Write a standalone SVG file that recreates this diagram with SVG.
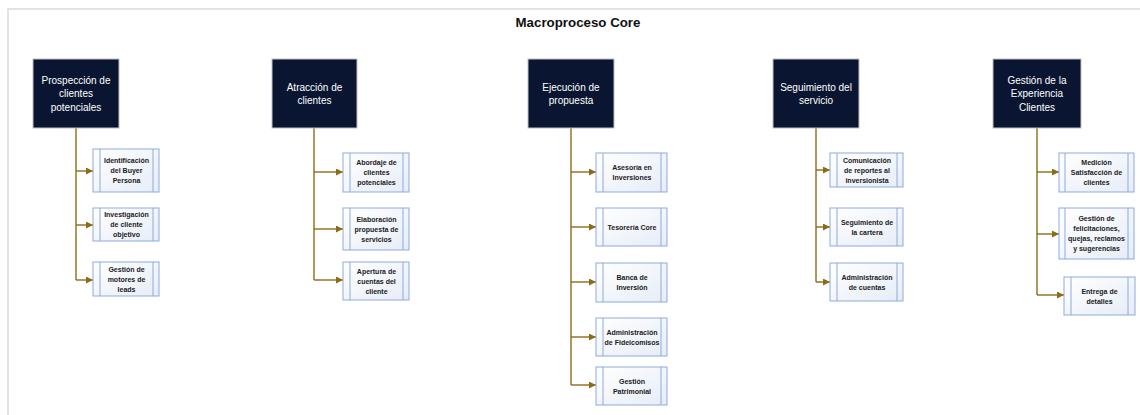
<svg xmlns="http://www.w3.org/2000/svg" width="1140" height="415" viewBox="0 0 1140 415">
<defs>
<linearGradient id="cg" x1="0" y1="0" x2="1" y2="1">
<stop offset="0" stop-color="#ffffff"/>
<stop offset="1" stop-color="#e6ecf7"/>
</linearGradient>
<marker id="ah" markerUnits="userSpaceOnUse" markerWidth="8" markerHeight="8" refX="7" refY="3.5" orient="auto">
<path d="M0,0 L7,3.5 L0,7 z" fill="#8b6c17"/>
</marker>
<style>
.hd{fill:#0a1631;stroke:#bfbfbf;stroke-width:1}
.ht{font-family:"Liberation Sans",Arial,sans-serif;font-size:10px;fill:#ffffff;text-anchor:middle}
.cb{fill:url(#cg);stroke:#8faadc;stroke-width:1}
.bar{stroke:#8faadc;stroke-width:1}
.ct{font-family:"Liberation Sans",Arial,sans-serif;font-size:7px;font-weight:bold;fill:#1a1a1a;text-anchor:middle}
.ln{fill:none;stroke:#8b6c17;stroke-width:1.4}
.ar{fill:none;stroke:#8b6c17;stroke-width:1.4;marker-end:url(#ah)}
</style>
</defs>
<rect x="8" y="9" width="1140" height="420" fill="#ffffff" stroke="#d9d9d9" stroke-width="1.5"/>
<text x="578" y="27" font-family="'Liberation Sans',Arial,sans-serif" font-size="13.3" font-weight="bold" fill="#111" text-anchor="middle">Macroproceso Core</text>

<g id="connectors">
<path class="ln" d="M76,128 V280"/>
<path class="ar" d="M76,171 H93"/>
<path class="ar" d="M76,225 H93"/>
<path class="ar" d="M76,280 H93"/>
<path class="ln" d="M314,128 V280"/>
<path class="ar" d="M314,172 H343"/>
<path class="ar" d="M314,229 H343"/>
<path class="ar" d="M314,280 H343"/>
<path class="ln" d="M571,128 V385"/>
<path class="ar" d="M571,172 H596"/>
<path class="ar" d="M571,227 H596"/>
<path class="ar" d="M571,282 H596"/>
<path class="ar" d="M571,337 H596"/>
<path class="ar" d="M571,385 H596"/>
<path class="ln" d="M816,128 V282"/>
<path class="ar" d="M816,170 H830"/>
<path class="ar" d="M816,227 H830"/>
<path class="ar" d="M816,282 H830"/>
<path class="ln" d="M1037,128 V295"/>
<path class="ar" d="M1037,172 H1059"/>
<path class="ar" d="M1037,234 H1059"/>
<path class="ar" d="M1037,295 H1064"/>
</g>

<g id="h1"><rect class="hd" x="33" y="59" width="86" height="69"/><text class="ht"><tspan x="76" y="83.5">Prospección de</tspan><tspan x="76" y="97">clientes</tspan><tspan x="76" y="110.5">potenciales</tspan></text></g>
<g id="h2"><rect class="hd" x="272" y="59" width="85" height="69"/><text class="ht"><tspan x="314.5" y="90.5">Atracción de</tspan><tspan x="314.5" y="104">clientes</tspan></text></g>
<g id="h3"><rect class="hd" x="528" y="59" width="86" height="69"/><text class="ht"><tspan x="571" y="90.5">Ejecución de</tspan><tspan x="571" y="104">propuesta</tspan></text></g>
<g id="h4"><rect class="hd" x="773" y="59" width="86" height="69"/><text class="ht"><tspan x="816" y="90.5">Seguimiento del</tspan><tspan x="816" y="104">servicio</tspan></text></g>
<g id="h5"><rect class="hd" x="993" y="59" width="88" height="69"/><text class="ht"><tspan x="1037" y="83.5">Gestión de la</tspan><tspan x="1037" y="97">Experiencia</tspan><tspan x="1037" y="110.5">Clientes</tspan></text></g>

<g id="c1a"><rect class="cb" x="93" y="149" width="66" height="43"/><path class="bar" d="M100,149 V192 M153,149 V192"/><text class="ct"><tspan x="126.5" y="163">Identificación</tspan><tspan x="126.5" y="173">del Buyer</tspan><tspan x="126.5" y="183">Persona</tspan></text></g>
<g id="c1b"><rect class="cb" x="93" y="208" width="66" height="33"/><path class="bar" d="M100,208 V241 M153,208 V241"/><text class="ct"><tspan x="126.5" y="217">Investigación</tspan><tspan x="126.5" y="227">de cliente</tspan><tspan x="126.5" y="237">objetivo</tspan></text></g>
<g id="c1c"><rect class="cb" x="93" y="262" width="66" height="34"/><path class="bar" d="M100,262 V296 M153,262 V296"/><text class="ct"><tspan x="126.5" y="271.5">Gestión de</tspan><tspan x="126.5" y="281.5">motores de</tspan><tspan x="126.5" y="291.5">leads</tspan></text></g>

<g id="c2a"><rect class="cb" x="343" y="153" width="66" height="39"/><path class="bar" d="M350,153 V192 M403,153 V192"/><text class="ct"><tspan x="376.5" y="165">Abordaje de</tspan><tspan x="376.5" y="175">clientes</tspan><tspan x="376.5" y="185">potenciales</tspan></text></g>
<g id="c2b"><rect class="cb" x="343" y="208" width="66" height="42"/><path class="bar" d="M350,208 V250 M403,208 V250"/><text class="ct"><tspan x="376.5" y="221.5">Elaboración</tspan><tspan x="376.5" y="231.5">propuesta de</tspan><tspan x="376.5" y="241.5">servicios</tspan></text></g>
<g id="c2c"><rect class="cb" x="343" y="262" width="66" height="38"/><path class="bar" d="M350,262 V300 M403,262 V300"/><text class="ct"><tspan x="376.5" y="273.5">Apertura de</tspan><tspan x="376.5" y="283.5">cuentas del</tspan><tspan x="376.5" y="293.5">cliente</tspan></text></g>

<g id="c3a"><rect class="cb" x="596" y="153" width="71" height="39"/><path class="bar" d="M603,153 V192 M661,153 V192"/><text class="ct"><tspan x="632" y="170">Asesoría en</tspan><tspan x="632" y="180">Inversiones</tspan></text></g>
<g id="c3b"><rect class="cb" x="596" y="208" width="71" height="38"/><path class="bar" d="M603,208 V246 M661,208 V246"/><text class="ct"><tspan x="632" y="229.5">Tesorería Core</tspan></text></g>
<g id="c3c"><rect class="cb" x="596" y="263" width="71" height="39"/><path class="bar" d="M603,263 V302 M661,263 V302"/><text class="ct"><tspan x="632" y="280">Banca de</tspan><tspan x="632" y="290">Inversión</tspan></text></g>
<g id="c3d"><rect class="cb" x="596" y="318" width="71" height="38"/><path class="bar" d="M603,318 V356 M661,318 V356"/><text class="ct"><tspan x="632" y="334.5">Administración</tspan><tspan x="632" y="344.5">de Fideicomisos</tspan></text></g>
<g id="c3e"><rect class="cb" x="596" y="367" width="71" height="38"/><path class="bar" d="M603,367 V405 M661,367 V405"/><text class="ct"><tspan x="632" y="383.5">Gestión</tspan><tspan x="632" y="393.5">Patrimonial</tspan></text></g>

<g id="c4a"><rect class="cb" x="830" y="153" width="73" height="34"/><path class="bar" d="M837,153 V187 M897,153 V187"/><text class="ct"><tspan x="867" y="162.5">Comunicación</tspan><tspan x="867" y="172.5">de reportes al</tspan><tspan x="867" y="182.5">inversionista</tspan></text></g>
<g id="c4b"><rect class="cb" x="830" y="208" width="73" height="38"/><path class="bar" d="M837,208 V246 M897,208 V246"/><text class="ct"><tspan x="867" y="224.5">Seguimiento de</tspan><tspan x="867" y="234.5">la cartera</tspan></text></g>
<g id="c4c"><rect class="cb" x="830" y="263" width="73" height="38"/><path class="bar" d="M837,263 V301 M897,263 V301"/><text class="ct"><tspan x="867" y="279.5">Administración</tspan><tspan x="867" y="289.5">de cuentas</tspan></text></g>

<g id="c5a"><rect class="cb" x="1059" y="153" width="75" height="39"/><path class="bar" d="M1065,153 V192 M1128,153 V192"/><text class="ct"><tspan x="1096.5" y="165">Medición</tspan><tspan x="1096.5" y="175">Satisfacción de</tspan><tspan x="1096.5" y="185">clientes</tspan></text></g>
<g id="c5b"><rect class="cb" x="1059" y="208" width="75" height="51"/><path class="bar" d="M1065,208 V259 M1128,208 V259"/><text class="ct"><tspan x="1096.5" y="221">Gestión de</tspan><tspan x="1096.5" y="231">felicitaciones,</tspan><tspan x="1096.5" y="241">quejas, reclamos</tspan><tspan x="1096.5" y="251">y sugerencias</tspan></text></g>
<g id="c5c"><rect class="cb" x="1064" y="277" width="71" height="38"/><path class="bar" d="M1071,277 V315 M1128,277 V315"/><text class="ct"><tspan x="1099.5" y="293.5">Entrega de</tspan><tspan x="1099.5" y="303.5">detalles</tspan></text></g>
</svg>
